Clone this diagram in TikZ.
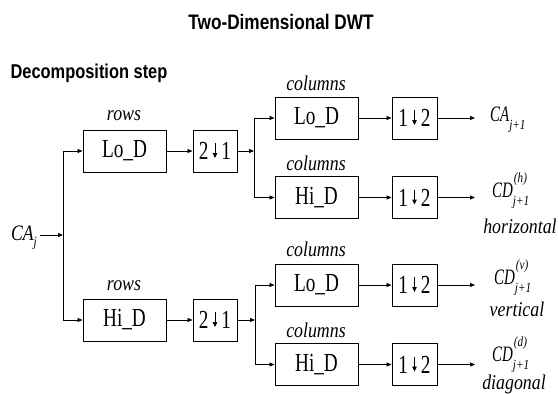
\documentclass[tikz,border=0pt]{standalone}
\usepackage{fontspec}
\setmainfont{Liberation Serif}
\newfontfamily\boxfont[FakeStretch=0.74]{Liberation Serif}
\newfontfamily\labfont[FakeStretch=0.85]{Liberation Serif}
\newfontfamily\symfont[FakeStretch=0.68]{Liberation Serif}
\newfontfamily\insymfont[FakeStretch=0.8]{Liberation Serif}
\newfontfamily\scfont[FakeStretch=0.8]{Liberation Serif}
\newfontfamily\headfont[FakeStretch=0.82]{Liberation Sans}
\usetikzlibrary{arrows.meta}
\newcommand{\subfont}{\scfont\fontsize{14}{14}\selectfont\itshape}
\newcommand{\cdsym}[1]{{\symfont\itshape CD}\makebox[0pt][l]{\hspace{1pt}\raisebox{15pt}{\subfont (#1)}}\raisebox{-8pt}{\subfont j+1}}
\begin{document}
\begin{tikzpicture}[x=1pt,y=-1pt,
  blk/.style={draw, line width=1pt, minimum height=42pt, inner sep=0pt,
    font=\boxfont\fontsize{26}{26}\selectfont},
  fbox/.style={blk, minimum width=83pt},
  dbox/.style={blk, minimum width=44pt},
  lab/.style={font=\labfont\itshape\fontsize{21}{21}\selectfont, inner sep=0pt},
  sym/.style={font=\symfont\itshape\fontsize{22}{22}\selectfont, inner sep=0pt},
  ttl/.style={font=\headfont\bfseries\fontsize{21}{21}\selectfont, inner sep=0pt},
  ln/.style={line width=0.8pt},
  arr/.style={ln, -{Triangle[length=5pt,width=4pt]}},
  darr/.style={line width=0.8pt, -{Triangle[length=5pt,width=4.5pt]}}]
\fill[white] (0,0) rectangle (558,394);
\useasboundingbox (0,0) rectangle (558,394);

% titles
\node[ttl] (title) at (281,22) {Two-Dimensional DWT};
\node[ttl, font=\headfont\bfseries\fontsize{20}{20}\selectfont] (dstep) at (89,73) {Decomposition step};

% row filters
\node[fbox] (rlo) at (124.5,151) {Lo\_D};
\node[dbox] (rd1) at (215,151) {2\hspace{13pt}1};
\node[fbox] (rhi) at (124.5,320) {Hi\_D};
\node[dbox] (rd2) at (215,320) {2\hspace{13pt}1};
\node[lab] (rl1) at (124,116) {rows};
\node[lab] (rl2) at (124,286) {rows};

% column filters
\node[fbox] (clo1) at (316.5,118) {Lo\_D};
\node[fbox] (chi1) at (316.5,197.5) {Hi\_D};
\node[fbox] (clo2) at (316.5,285) {Lo\_D};
\node[fbox] (chi2) at (316.5,364.5) {Hi\_D};
\node[dbox, minimum width=45pt] (cd1) at (414.5,118) {1\hspace{13pt}2};
\node[dbox, minimum width=45pt] (cd2) at (414.5,197.5) {1\hspace{13pt}2};
\node[dbox, minimum width=45pt] (cd3) at (414.5,285) {1\hspace{13pt}2};
\node[dbox, minimum width=45pt] (cd4) at (414.5,364.5) {1\hspace{13pt}2};
\node[lab, anchor=base] (cl1) at (316,90.5) {columns};
\node[lab, anchor=base] (cl2) at (316,170.5) {columns};
\node[lab, anchor=base] (cl3) at (316,256.5) {columns};
\node[lab, anchor=base] (cl4) at (316,337.5) {columns};

% down-sampling arrows inside boxes
\foreach \b in {rd1,rd2,cd1,cd2,cd3,cd4}
  \draw[darr] ([yshift=8pt]\b.center) -- ([yshift=-7pt]\b.center);

% input
\node[sym, font=\insymfont\itshape\fontsize{22}{22}\selectfont, anchor=base east] (caj) at (37,240) {CA\raisebox{-6pt}{\subfont j}};
\coordinate (jl) at (63,235);
\coordinate (jlt) at (63,151);
\coordinate (jlb) at (63,320);
\draw[arr] (caj.east |- jl) ++(3pt,0) -- (jl);
\draw[ln] (jlt) -- (jlb);
\draw[arr] (jlt) -- (rlo.west);
\draw[arr] (jlb) -- (rhi.west);
\draw[arr] (rlo) -- (rd1);
\draw[arr] (rhi) -- (rd2);

% upper split
\coordinate (ju) at (254,151);
\coordinate (jut) at (254,118);
\coordinate (jub) at (254,197.5);
\draw[arr] (rd1.east) -- (ju);
\draw[ln] (jut) -- (jub);
\draw[arr] (jut) -- (clo1.west);
\draw[arr] (jub) -- (chi1.west);

% lower split
\coordinate (jd) at (255,320);
\coordinate (jdt) at (255,285);
\coordinate (jdb) at (255,364.5);
\draw[arr] (rd2.east) -- (jd);
\draw[ln] (jdt) -- (jdb);
\draw[arr] (jdt) -- (clo2.west);
\draw[arr] (jdb) -- (chi2.west);

% column chains
\draw[arr] (clo1) -- (cd1);
\draw[arr] (chi1) -- (cd2);
\draw[arr] (clo2) -- (cd3);
\draw[arr] (chi2) -- (cd4);

% outputs
\coordinate (o1) at (475,118);
\coordinate (o2) at (475,197.5);
\coordinate (o3) at (475,285);
\coordinate (o4) at (475,364.5);
\draw[arr] (cd1.east) -- (o1);
\draw[arr] (cd2.east) -- (o2);
\draw[arr] (cd3.east) -- (o3);
\draw[arr] (cd4.east) -- (o4);

\node[sym, anchor=base west] (ca1) at (490,121) {CA\raisebox{-8pt}{\subfont j+1}};
\node[sym, anchor=base west] (cdh) at (492,197.5) {\cdsym{h}};
\node[sym, anchor=base west] (cdv) at (494,284) {\cdsym{v}};
\node[sym, anchor=base west] (cdd) at (492,361) {\cdsym{d}};
\node[lab, anchor=base] (hor) at (520,233) {horizontal};
\node[lab, anchor=base] (ver) at (517,316) {vertical};
\node[lab, anchor=base] (dia) at (514,389) {diagonal};
\end{tikzpicture}
\end{document}
